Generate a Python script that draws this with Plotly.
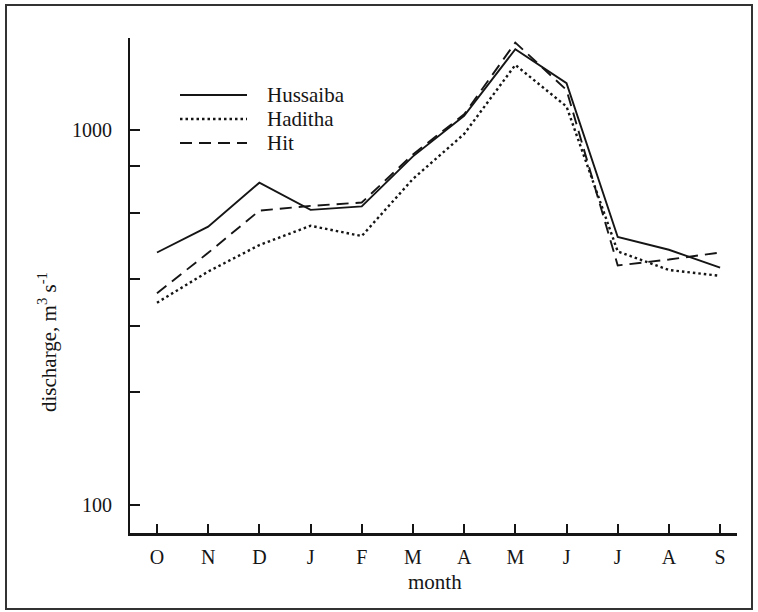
import plotly.graph_objects as go

months = ["O", "N", "D", "J", "F", "M", "A", "M", "J", "J", "A", "S"]
hussaiba = [471, 552, 723, 612, 625, 850, 1090, 1641, 1332, 518, 479, 429]
haditha = [346, 419, 493, 555, 521, 740, 975, 1490, 1154, 474, 423, 408]
hit = [367, 470, 609, 627, 640, 860, 1100, 1709, 1278, 435, 451, 471]
series_names = ["Hussaiba", "Haditha", "Hit"]
ytick_vals = [100, 1000]
ytick_text = ["100", "1000"]
yminor_vals = [200, 300, 400, 600, 800]

W, H = 758, 612
L, R, T, B = 130, 737, 38, 533
pw, ph = R - L, B - T

def px(x):
    return (x - L) / pw

def py(y):
    return (B - y) / ph

FONT = "Liberation Serif"
INK = "#151515"
styles = [dict(dash="solid", width=1.9), dict(dash="2.5px,3px", width=2.4), dict(dash="12px,7px", width=1.9)]
data = [hussaiba, haditha, hit]
x = list(range(len(months)))

fig = go.Figure()
for name, vals, st in zip(series_names, data, styles):
    fig.add_trace(go.Scatter(x=x, y=vals, mode="lines", name=name,
                             line=dict(color=INK, width=st["width"], dash=st["dash"]),
                             showlegend=False))

shapes = []
annotations = []
# custom legend
leg_y = [95, 119, 143]
for name, st, yy in zip(series_names, styles, leg_y):
    shapes.append(dict(type="line", xref="paper", yref="paper",
                       x0=px(180), x1=px(247), y0=py(yy), y1=py(yy),
                       line=dict(color=INK, width=st["width"], dash=st["dash"])))
    annotations.append(dict(text=name, xref="paper", yref="paper", x=px(265), y=py(yy),
                            xanchor="left", yanchor="middle", showarrow=False,
                            font=dict(family=FONT, size=21, color=INK)))
# frame
shapes.append(dict(type="rect", xref="paper", yref="paper",
                   x0=px(6), x1=px(752), y0=py(609), y1=py(5),
                   line=dict(color="#333", width=2)))
annotations.append(dict(text="discharge, m<sup>3</sup> s<sup>-1</sup>", xref="paper", yref="paper",
                        x=px(47), y=py(342), textangle=-90, showarrow=False,
                        xanchor="center", yanchor="middle",
                        font=dict(family=FONT, size=21, color=INK)))
annotations.append(dict(text="month", xref="paper", yref="paper",
                        x=px(435), y=py(582), showarrow=False,
                        xanchor="center", yanchor="middle",
                        font=dict(family=FONT, size=21, color=INK)))

fig.update_layout(
    width=W, height=H,
    margin=dict(l=L, r=W - R, t=T, b=H - B, pad=0),
    paper_bgcolor="white", plot_bgcolor="white",
    font=dict(family=FONT, size=20, color=INK),
    shapes=shapes, annotations=annotations,
)
fig.update_xaxes(range=[-0.527, 11.33], tickmode="array", tickvals=x, ticktext=months,
                 showline=True, linewidth=3, linecolor=INK, ticks="inside", ticklen=9,
                 tickwidth=1.5, tickcolor=INK, showgrid=False, zeroline=False,
                 ticklabelstandoff=4, tickfont=dict(family=FONT, size=20, color=INK))
fig.update_yaxes(type="log", range=[1.925, 3.245], tickmode="array",
                 tickvals=ytick_vals, ticktext=ytick_text,
                 minor=dict(tickmode="array", tickvals=yminor_vals, ticks="inside",
                            ticklen=10, tickwidth=1.5, tickcolor=INK, showgrid=False),
                 showline=True, linewidth=2, linecolor=INK, ticks="inside", ticklen=10,
                 tickwidth=1.5, tickcolor=INK, showgrid=False, zeroline=False,
                 ticklabelstandoff=12, tickfont=dict(family=FONT, size=20, color=INK))

fig.write_html("out.html", config={"displayModeBar": False},
               post_script="document.body.style.margin='0';")
